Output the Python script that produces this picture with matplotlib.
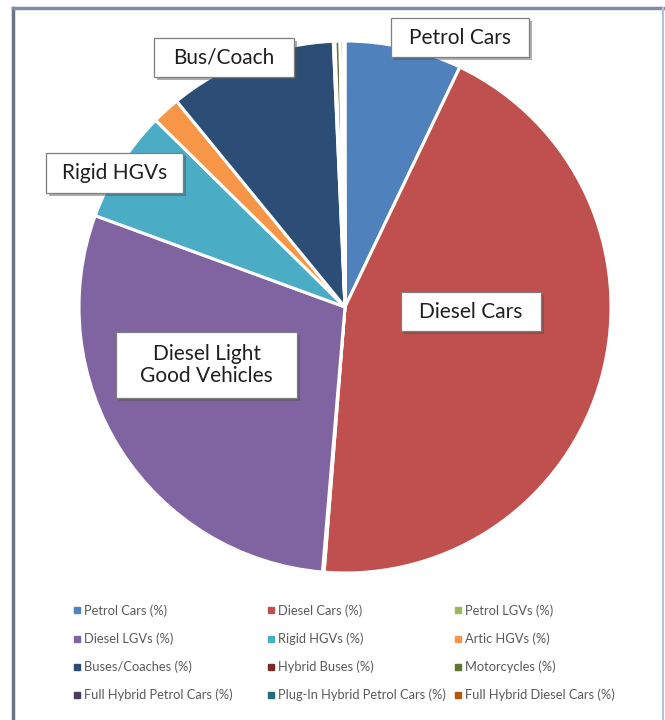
import matplotlib.pyplot as plt
import matplotlib.patheffects as pe
from matplotlib.lines import Line2D
from matplotlib.patches import Rectangle

# Dados
categorias = [
    "Petrol Cars (%)", "Diesel Cars (%)", "Petrol LGVs (%)",
    "Diesel LGVs (%)", "Rigid HGVs (%)", "Artic HGVs (%)",
    "Buses/Coaches (%)", "Hybrid Buses (%)", "Motorcycles (%)",
    "Full Hybrid Petrol Cars (%)", "Plug-In Hybrid Petrol Cars (%)",
    "Full Hybrid Diesel Cars (%)",
]
valores = [7.1, 44.1, 0.1, 29.2, 6.8, 1.7, 10.2, 0.1, 0.3, 0.2, 0.05, 0.05]
cores = [
    "#4F81BD", "#C0504D", "#9BBB59", "#8064A2", "#4BACC6", "#F79646",
    "#2C4D75", "#772C2A", "#5F7530", "#4D3B62", "#276A7C", "#B65708",
]

# Caixas de rótulo: (texto, x0, y0, x1, y1) em pixels da figura
rotulos = [
    ("Petrol Cars", 391, 18, 529, 57),
    ("Bus/Coach", 154, 38, 294, 77),
    ("Rigid HGVs", 46, 153, 183, 193),
    ("Diesel Cars", 401, 292, 541, 331),
    ("Diesel Light\nGood Vehicles", 116, 332, 297, 398),
]

W, H = 665, 720
plt.rcParams["font.family"] = ["Lato", "DejaVu Sans"]

fig = plt.figure(figsize=(W / 100, H / 100), dpi=100)
fig.patch.set_facecolor("white")

# Moldura
fig.add_artist(Line2D([13 / W, 13 / W], [0, 1 - 8 / H], color="#6b7280", lw=2.5))
fig.add_artist(Line2D([13 / W, 664 / W], [1 - 8 / H, 1 - 8 / H], color="#7d8fa8", lw=2.5))
fig.add_artist(Line2D([663 / W, 663 / W], [0, 1 - 8 / H], color="#a9c4e0", lw=1.5))

# Pizza
cx, cy, r = 345, 307, 266
ax = fig.add_axes([(cx - r) / W, (H - cy - r) / H, 2 * r / W, 2 * r / H])
wedges, _ = ax.pie(
    valores,
    colors=cores,
    startangle=90,
    counterclock=False,
    radius=1,
    wedgeprops=dict(edgecolor="white", linewidth=2.2),
)
ax.set_xlim(-1, 1)
ax.set_ylim(-1, 1)
ax.set_aspect("equal")
ax.axis("off")

for texto, x0, y0, x1, y1 in rotulos:
    caixa = Rectangle(
        (x0 / W, 1 - y1 / H), (x1 - x0) / W, (y1 - y0) / H,
        transform=fig.transFigure, facecolor="white",
        edgecolor="#7f7f7f", linewidth=0.9, zorder=5,
    )
    caixa.set_path_effects(
        [pe.SimplePatchShadow(offset=(2, -2.5), alpha=0.45), pe.Normal()]
    )
    fig.add_artist(caixa)
    fig.text(
        (x0 + x1) / 2 / W, 1 - (y0 + y1) / 2 / H, texto,
        ha="center", va="center", fontsize=15, color="#1f1f1f",
        linespacing=1.1, zorder=6,
    )

# Legenda: uma coluna por vez, largura fixa como no Excel
handles = [
    Line2D([], [], marker="s", linestyle="none", markersize=4.2,
           markerfacecolor=c, markeredgecolor=c)
    for c in cores
]
col_x = [67, 261, 448]
for c, x in enumerate(col_x):
    idx = list(range(c, 12, 3))
    leg = fig.legend(
        [handles[i] for i in idx],
        [categorias[i] for i in idx],
        loc="upper left",
        bbox_to_anchor=(x / W, 1 - 598 / H),
        frameon=False,
        fontsize=9.3,
        handlelength=0.5,
        handletextpad=0.35,
        labelspacing=1.2,
        borderpad=0,
    )
    for txt in leg.get_texts():
        txt.set_color("#595959")

fig.savefig("out.png", dpi=100, facecolor="white")
